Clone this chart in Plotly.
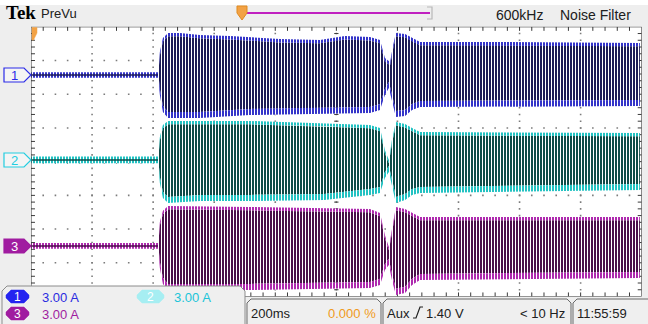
import plotly.graph_objects as go

W, H = 648, 324
GX0, GX1 = 31.0, 641.7      # graticule left/right (px)
GY0, GY1 = 26.8, 296.5      # graticule top/bottom (px)

# ---------------- data ----------------
ms_per_div = 200
amps_per_div = 3.0
n_xdiv, n_ydiv = 10, 8

ch_offsets_div = [2.57, 0.05, -2.50]   # channel ground positions (divisions)

noise_t = [0, 416]
ch1_noise = [0.25, 0.25]
ch2_noise = [0.30, 0.30]
ch3_noise = [0.25, 0.25]

ch1_up_t = [416, 422, 432, 449, 488, 553, 652, 816, 946, 1028, 1110, 1143, 1159, 1176, 1186, 1195, 1225, 1248, 1274, 1536, 1994]
ch1_up_a = [0.18, 2.05, 3.29, 3.74, 3.74, 3.56, 3.47, 3.20, 3.12, 3.47, 3.38, 3.12, 1.51, 1.16, 2.67, 3.74, 3.65, 3.29, 2.94, 2.94, 2.85]
ch1_lo_t = [416, 422, 432, 449, 553, 717, 881, 1110, 1143, 1159, 1172, 1182, 1195, 1225, 1248, 1274, 1994]
ch1_lo_a = [-0.18, -1.78, -3.29, -3.83, -3.83, -3.56, -3.47, -3.38, -3.12, -1.78, -1.16, -2.23, -3.74, -3.65, -3.12, -2.85, -2.76]

ch2_up_t = [416, 422, 432, 449, 717, 960, 1110, 1143, 1159, 1172, 1182, 1195, 1225, 1248, 1274, 1994]
ch2_up_a = [0.18, 2.05, 3.12, 3.47, 3.47, 3.29, 3.12, 2.85, 0.89, 0.00, 1.78, 3.38, 3.20, 2.85, 2.49, 2.40]
ch2_lo_t = [416, 422, 432, 449, 553, 717, 960, 1110, 1143, 1159, 1172, 1182, 1195, 1225, 1248, 1274, 1994]
ch2_lo_a = [-0.18, -2.05, -3.38, -3.83, -3.65, -3.65, -3.56, -3.12, -2.94, -1.60, -1.07, -2.23, -3.83, -3.56, -3.12, -2.94, -2.67]

ch3_up_t = [416, 422, 432, 449, 717, 960, 1110, 1143, 1159, 1172, 1182, 1195, 1225, 1248, 1274, 1994]
ch3_up_a = [0.18, 2.14, 3.12, 3.56, 3.47, 3.38, 3.29, 2.94, 0.98, -0.09, 1.60, 3.47, 3.29, 2.94, 2.58, 2.58]
ch3_lo_t = [416, 422, 432, 449, 717, 960, 1110, 1143, 1159, 1172, 1182, 1195, 1225, 1248, 1274, 1994]
ch3_lo_a = [-0.18, -1.96, -3.38, -3.92, -3.92, -3.83, -3.74, -3.47, -2.14, -1.69, -3.03, -4.36, -4.18, -3.47, -3.03, -2.85]

scale_labels = ["3.00 A", "3.00 A", "3.00 A"]
timebase_label = "200ms"
trig_pos_label = "0.000 %"
trig_src_label = "Aux"
trig_level_label = "1.40 V"
freq_label = "< 10 Hz"
clock_label = "11:55:59"
filter_labels = ["600kHz", "Noise Filter"]

# ---------------- styles ----------------
DARK = ['#1c1c56', '#0e4b48', '#4a0f4a']
BRIGHT = ['#3434c8', '#22c2c2', '#ae2aae']
LABEL = ['#2b2be8', '#22cde0', '#a01ca0']
FONT = "Liberation Sans, Arial, sans-serif"
BAR = 3          # bar pitch (px)
GAP = 1 / 3      # white gap fraction

fig = go.Figure()

def to_div(ch, amps):
    return [ch_offsets_div[ch] + a / amps_per_div for a in amps]

# graticule dots
dx, dy = [], []
for k in range(1, n_xdiv):
    for j in range(1, n_ydiv * 5):
        dx.append(k * ms_per_div); dy.append(-4 + 0.2 * j)
for k in range(1, n_ydiv):
    for j in range(1, n_xdiv * 5):
        dx.append(j * ms_per_div / 5); dy.append(-4 + k)
fig.add_trace(go.Scatter(x=dx, y=dy, mode='markers', hoverinfo='skip',
                         marker=dict(symbol='square', size=1.6, color='#7c7c7c', line=dict(width=0))))

# graticule ticks (border and centre cross)
tx, ty = [], []
for j in range(1, n_xdiv * 5):
    x = j * ms_per_div / 5
    tx += [x, x, None, x, x, None, x, x, None]
    ty += [4, 3.88, None, -4, -3.88, None, -0.06, 0.06, None]
for j in range(1, n_ydiv * 5):
    y = -4 + 0.2 * j
    tx += [0, 13, None, 2000, 1987, None, 993, 1007, None]
    ty += [y, y, None, y, y, None, y, y, None]
fig.add_trace(go.Scatter(x=tx, y=ty, mode='lines', hoverinfo='skip',
                         line=dict(color='#3a3a3a', width=1)))

def band(xs_up, ys_up, xs_lo, ys_lo, color, gap=GAP, size=BAR, gapcolor='white'):
    fig.add_trace(go.Scatter(
        x=list(xs_up) + list(xs_lo)[::-1], y=list(ys_up) + list(ys_lo)[::-1],
        mode='lines', fill='toself', line=dict(width=0), hoverinfo='skip',
        fillcolor=color,
        fillpattern=dict(shape='|', size=size, solidity=gap,
                         fgcolor=gapcolor, bgcolor=color, fillmode='replace')))

channels = [
    (ch1_up_t, ch1_up_a, ch1_lo_t, ch1_lo_a, ch1_noise),
    (ch2_up_t, ch2_up_a, ch2_lo_t, ch2_lo_a, ch2_noise),
    (ch3_up_t, ch3_up_a, ch3_lo_t, ch3_lo_a, ch3_noise),
]
TIP_UP, TIP_LO = 0.1, 0.18
for ch, (ut, ua, lt, la, nz) in enumerate(channels):
    # pre-onset noise
    band(noise_t, to_div(ch, nz), noise_t, to_div(ch, [-v for v in nz]), BRIGHT[ch], 1 / 3, 3)
    fig.add_trace(go.Scatter(x=noise_t, y=to_div(ch, [0, 0]), mode='lines', hoverinfo='skip',
                             line=dict(color=DARK[ch], width=1.4)))
    # oscillation: dark bars with brighter tips
    uy, ly = to_div(ch, ua), to_div(ch, la)
    uyi = [v - TIP_UP for v in uy]
    lyi = [v + TIP_LO for v in ly]
    band(ut, uyi, lt, lyi, DARK[ch])
    band(ut, uy, ut, uyi, BRIGHT[ch])
    band(lt, lyi, lt, ly, BRIGHT[ch])

# ---------------- chrome ----------------
def px(x): return x / W
def py(y): return 1 - y / H
def path(pts, close=True):
    s = "M" + " L".join(f"{px(a):.5f},{py(b):.5f}" for a, b in pts)
    return s + (" Z" if close else "")

shapes = []
def rect(x0, y0, x1, y1, fill, line='rgba(0,0,0,0)', lw=0, layer='above'):
    shapes.append(dict(type='rect', xref='paper', yref='paper', x0=px(x0), x1=px(x1),
                       y0=py(y1), y1=py(y0), fillcolor=fill, line=dict(color=line, width=lw), layer=layer))
def rrect(x0, y0, x1, y1, r, fill, line, lw=1):
    pts = [(x0 + r, y0), (x1 - r, y0), (x1, y0 + r), (x1, y1 - r), (x1 - r, y1), (x0 + r, y1), (x0, y1 - r), (x0, y0 + r)]
    shapes.append(dict(type='path', xref='paper', yref='paper', path=path(pts),
                       fillcolor=fill, line=dict(color=line, width=lw), layer='above'))

rect(0, 0, W, 5, 'white', layer='below')
# graticule border
shapes.append(dict(type='rect', xref='x', yref='y', x0=0, x1=2000, y0=-4, y1=4,
                   line=dict(color='#333333', width=1), layer='above'))

# top bar: record view
shapes.append(dict(type='line', xref='paper', yref='paper', x0=px(247), x1=px(430), y0=py(13), y1=py(13),
                   line=dict(color='#c020c0', width=2), layer='above'))
shapes.append(dict(type='path', xref='paper', yref='paper', path=path([(427, 7), (432, 7), (432, 19), (427, 19)], False),
                   line=dict(color='#b8b8b8', width=1.2), layer='above'))
shapes.append(dict(type='path', xref='paper', yref='paper',
                   path=path([(237, 6), (247, 6), (247, 13), (242, 20), (237, 13)]),
                   fillcolor='#f2a245', line=dict(color='#e08a20', width=1), layer='above'))
shapes.append(dict(type='path', xref='paper', yref='paper',
                   path=path([(32, 27.5), (37, 27.5), (37, 33), (33.5, 40), (32, 40)]),
                   fillcolor='#f2a245', line=dict(color='#f2a245', width=0.5), layer='above'))

# channel ground markers
marker_y = [75, 160, 246]
for ch, yy in enumerate(marker_y):
    filled = (ch == 2)
    shapes.append(dict(type='path', xref='paper', yref='paper',
                       path=path([(4, yy - 7), (24, yy - 7), (31, yy), (24, yy + 7), (4, yy + 7)]),
                       fillcolor=LABEL[ch] if filled else '#f4f4f4',
                       line=dict(color=LABEL[ch], width=1.2), layer='above'))

# bottom readouts
rrect(2, 286, 245, 330, 5, '#efefef', '#8c8c8c', 1)
rrect(247, 299, 381, 330, 4, '#efefef', '#6a6a6a', 1)
rrect(383, 299, 571, 330, 4, '#efefef', '#6a6a6a', 1)
rrect(573, 299, 652, 330, 4, '#efefef', '#6a6a6a', 1)
badge_fill = ['#2424f0', '#a6eef2', '#a01ca0']
badge_pos = [(6, 290, 29, 303), (137, 290, 164, 303), (6, 307, 29, 320)]
for ch, (a, b, c, d) in enumerate(badge_pos):
    rrect(a, b, c, d, 5, badge_fill[ch], badge_fill[ch], 0.5)
# rising-edge trigger slope glyph
shapes.append(dict(type='path', xref='paper', yref='paper',
                   path=path([(413, 318), (416, 318), (420, 307), (423, 307)], False),
                   line=dict(color='#202020', width=1.2), layer='above'))

ann = []
def text(x, y, s, color='black', size=13, family=FONT, anchor='left', bold=False):
    ann.append(dict(xref='paper', yref='paper', x=px(x), y=py(y), text=f"<b>{s}</b>" if bold else s,
                    showarrow=False, xanchor=anchor, yanchor='middle',
                    font=dict(family=family, size=size, color=color)))

text(4, 13, "Tek", 'black', 19, "Liberation Serif, Times New Roman, serif", bold=True)
text(39, 14, "PreVu", '#202020', 13)
text(494, 15, filter_labels[0], '#202020', 14)
text(633, 15, filter_labels[1], '#202020', 14, anchor='right')

for ch, yy in enumerate(marker_y):
    text(14.5, yy, str(ch + 1), 'white' if ch == 2 else LABEL[ch], 13, anchor='center')

for ch, (a, b, c, d) in enumerate(badge_pos):
    text((a + c) / 2, (b + d) / 2 + 0.5, str(ch + 1), 'white', 12, anchor='center')
text(40, 297, scale_labels[0], '#2b2be0', 13)
text(172, 297, scale_labels[1], '#20c4d8', 13)
text(40, 314, scale_labels[2], '#a01ca0', 13)

text(249, 313, timebase_label, '#202020', 13)
text(378, 313, trig_pos_label, '#f09a20', 13, anchor='right')
text(385, 313, trig_src_label, '#202020', 13)
text(424, 313, trig_level_label, '#202020', 13)
text(567, 313, freq_label, '#202020', 13, anchor='right')
text(575, 313, clock_label, '#202020', 13)

fig.update_layout(
    width=W, height=H, margin=dict(l=0, r=0, t=0, b=0),
    paper_bgcolor='#eeeeee', plot_bgcolor='white', showlegend=False,
    shapes=shapes, annotations=ann,
    xaxis=dict(domain=[GX0 / W, GX1 / W], range=[0, 2000], visible=False, fixedrange=True),
    yaxis=dict(domain=[1 - GY1 / H, 1 - GY0 / H], range=[-4, 4], visible=False, fixedrange=True),
)
fig.write_html("out.html", config={'displayModeBar': False},
               post_script="document.body.style.margin='0';document.body.style.overflow='hidden';")
